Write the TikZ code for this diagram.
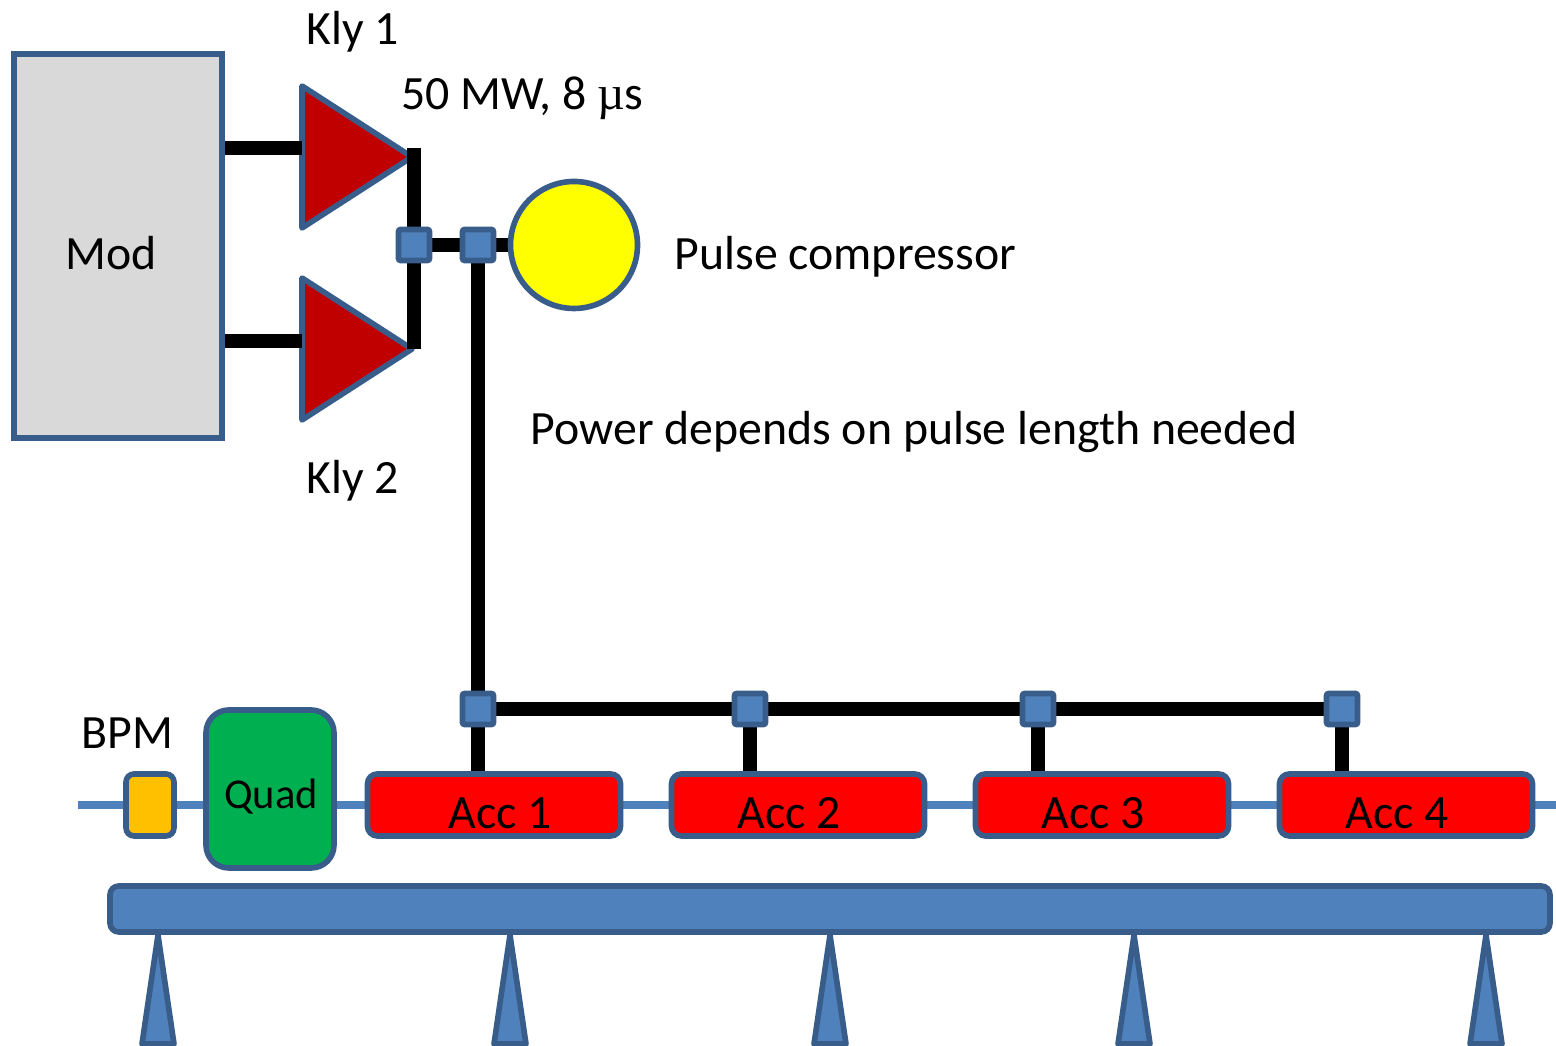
\documentclass[tikz,border=0pt]{standalone}
\usepackage{fontspec}
\setmainfont{Carlito}
\newfontfamily\mufont{Liberation Serif}
\usetikzlibrary{positioning}
\usetikzlibrary{backgrounds, shapes.geometric}
\definecolor{edgeblue}{HTML}{385D8A}
\definecolor{fillblue}{HTML}{4F81BD}
\definecolor{klyred}{HTML}{C00000}
\definecolor{quadgreen}{HTML}{00B050}
\definecolor{bpmorange}{HTML}{FFC000}
\definecolor{modgray}{HTML}{D9D9D9}
\definecolor{compyellow}{RGB}{255,255,0}
\definecolor{accred}{RGB}{255,0,0}
\tikzset{
  part/.style={draw=edgeblue,line width=1.6pt,inner sep=0pt,outer sep=0pt},
  rfline/.style={black,line width=3.9pt},
  beamline/.style={fillblue,line width=2.1pt},
  label/.style={font=\fontsize{13.6}{16}\selectfont,text=black,inner sep=0pt,anchor=base west},
  midlabel/.style={font=\fontsize{13.6}{16}\selectfont,text=black,inner sep=0pt,anchor=base},
  joint/.style={part,rectangle,rounded corners=0.6pt,fill=fillblue,minimum width=0.31cm,minimum height=0.31cm},
  accbox/.style={part,rectangle,rounded corners=2.8pt,fill=accred,minimum width=2.53cm,minimum height=0.62cm},
  klybox/.style={part,isosceles triangle,isosceles triangle stretches,shape border rotate=0,fill=klyred,line join=round,minimum width=1.42cm,minimum height=1.10cm,anchor=lower side},
  legbox/.style={draw=edgeblue,line width=1.6pt,fill=fillblue,line join=round},
}
\begin{document}
\begin{tikzpicture}
\useasboundingbox (0,0) rectangle (15.56,10.46);
\node[part,rectangle,fill=modgray,minimum width=2.08cm,minimum height=3.84cm] (mod) at (1.18,8.00) {};
\node[part,circle,fill=compyellow,minimum size=1.27cm] (comp) at (5.74,8.01) {};
\node[joint] (jointA) at (4.14,8.01) {};
\node[joint] (jointB) at (4.78,8.01) {};
\node[joint] (jointC) at (4.78,3.37) {};
\node[joint] (jointD) at (7.50,3.37) {};
\node[joint] (jointE) at (10.38,3.37) {};
\node[joint] (jointF) at (13.42,3.37) {};
\node[part,rectangle,rounded corners=2.3pt,fill=bpmorange,minimum width=0.48cm,minimum height=0.62cm] (bpm) at (1.50,2.41) {};
\node[part,rectangle,rounded corners=6.5pt,fill=quadgreen,minimum width=1.28cm,minimum height=1.58cm] (quad) at (2.70,2.57) {};
\node[accbox] (acc1) at (4.94,2.41) {};
\node[accbox] (acc2) at (7.98,2.41) {};
\node[accbox] (acc3) at (11.02,2.41) {};
\node[accbox] (acc4) at (14.06,2.41) {};
\node[part,rectangle,rounded corners=2.5pt,fill=fillblue,minimum width=14.40cm,minimum height=0.46cm] (table) at (8.30,1.37) {};
\begin{pgfonlayer}{background}
\coordinate (beamL) at (0.78,2.41);
\coordinate (beamR) at (15.56,2.41);
\draw[beamline] (beamL) -- (beamR);
\draw[legbox] (1.42,0.02) -- (1.58,1.11) -- (1.74,0.02) -- cycle;
\draw[legbox] (4.94,0.02) -- (5.10,1.11) -- (5.26,0.02) -- cycle;
\draw[legbox] (8.14,0.02) -- (8.30,1.11) -- (8.46,0.02) -- cycle;
\draw[legbox] (11.18,0.02) -- (11.34,1.11) -- (11.50,0.02) -- cycle;
\draw[legbox] (14.70,0.02) -- (14.86,1.11) -- (15.02,0.02) -- cycle;
\node[klybox] (kly1) at (3.02,8.89) {};
\node[klybox] (kly2) at (3.02,6.97) {};
\coordinate (kly1in) at (3.02,8.98);
\coordinate (kly2in) at (3.02,7.05);
\coordinate (kly1out) at (4.14,8.98);
\coordinate (kly2out) at (4.14,6.97);
\draw[rfline] (mod.east |- kly1in) -- (kly1in);
\draw[rfline] (mod.east |- kly2in) -- (kly2in);
\draw[rfline] (kly1out) -- (jointA);
\draw[rfline] (kly2out) -- (jointA);
\draw[rfline] (jointA) -- (jointB);
\draw[rfline] (jointB) -- (comp);
\draw[rfline] (jointB) -- (jointC);
\draw[rfline] (jointC) -- (jointF);
\draw[rfline] (jointC) -- (jointC |- acc1.north);
\draw[rfline] (jointD) -- (jointD |- acc2.north);
\draw[rfline] (jointE) -- (jointE |- acc3.north);
\draw[rfline] (jointF) -- (jointF |- acc4.north);
\end{pgfonlayer}
\node[label] (kly1label) at (3.06,10.01) {Kly 1};
\node[label] (powerlabel) at (4.01,9.365) {50 MW, 8 {\mufont µ}s};
\node[label] (modlabel) at (0.65,7.765) {Mod};
\node[label] (complabel) at (6.74,7.765) {Pulse compressor};
\node[label] (needlabel) at (5.30,6.01) {Power depends on pulse length needed};
\node[label] (kly2label) at (3.06,5.525) {Kly 2};
\node[label] (bpmlabel) at (0.81,2.97) {BPM};
\node[midlabel,font=\fontsize{12.1}{14}\selectfont] (quadlabel) at (2.71,2.375) {Quad};
\node[midlabel] (acc1label) at (5.00,2.17) {Acc 1};
\node[midlabel] (acc2label) at (7.89,2.17) {Acc 2};
\node[midlabel] (acc3label) at (10.93,2.17) {Acc 3};
\node[midlabel] (acc4label) at (13.97,2.17) {Acc 4};
\end{tikzpicture}
\end{document}
